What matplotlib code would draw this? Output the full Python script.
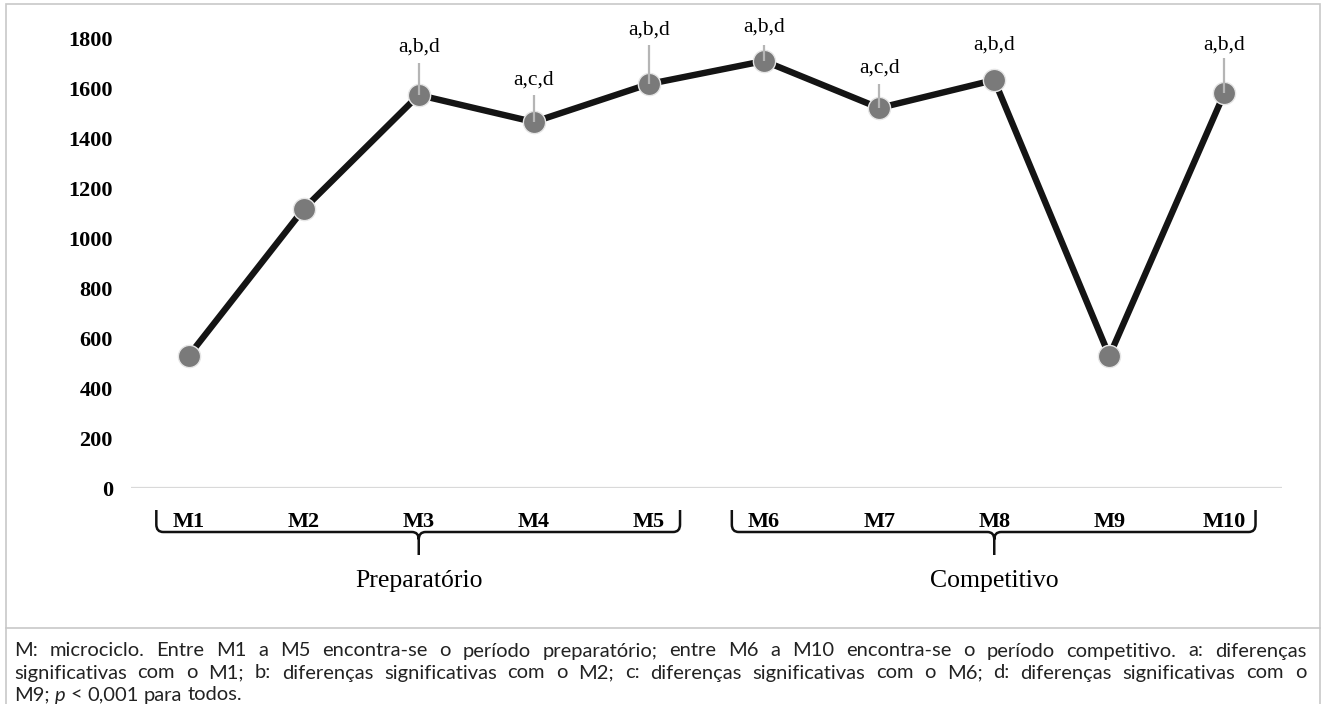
import numpy as np
import matplotlib
matplotlib.use("Agg")
from matplotlib import pyplot as plt
from matplotlib.path import Path
from matplotlib.patches import PathPatch, Rectangle
from matplotlib.lines import Line2D

# dados
microciclos = ["M1", "M2", "M3", "M4", "M5", "M6", "M7", "M8", "M9", "M10"]
valores = [528, 1116, 1572, 1464, 1616, 1708, 1520, 1632, 528, 1580]
rotulos = ["", "", "a,b,d", "a,c,d", "a,b,d", "a,b,d", "a,c,d", "a,b,d", "", "a,b,d"]
periodos = ["Preparatório", "Competitivo"]
periodo_idx = [(0, 4), (5, 9)]
yticks = [0, 200, 400, 600, 800, 1000, 1200, 1400, 1600, 1800]

legenda = [
    "M: microciclo. Entre M1 a M5 encontra-se o período preparatório; entre M6 a M10 encontra-se o período competitivo. a: diferenças",
    "significativas com o M1; b: diferenças significativas com o M2; c: diferenças significativas com o M6; d: diferenças significativas com o",
    "M9; p < 0,001 para todos.",
]

# posição (em y dos dados) do texto e do topo da linha guia de cada rótulo
rotulo_y = [None, None, 1764, 1632, 1832, 1844, 1680, 1772, None, 1772]
guia_topo = [None, None, 1700, 1572, 1772, 1772, 1616, None, None, 1720]

W, H = 1327, 704
fig = plt.figure(figsize=(W / 100, H / 100), dpi=100)
ax = fig.add_axes([131 / W, (H - 488) / H, (1282 - 131) / W, 450 / H])

serif = ["Liberation Serif", "DejaVu Serif"]
x = np.arange(len(microciclos))

ax.axhline(0, color="#d9d9d9", lw=1.6, zorder=1)
ax.plot(x, valores, color="#141414", lw=4.6, zorder=2, solid_capstyle="butt")
ax.plot(x, valores, "o", ms=16, color="#7a7a7a", mec="#e6e6e6", mew=1.0, zorder=3)

for i, txt in enumerate(rotulos):
    if not txt:
        continue
    ax.text(i, rotulo_y[i], txt, ha="center", va="center", fontsize=15.5,
            family=serif, clip_on=False, zorder=5)
    if guia_topo[i] is not None:
        ax.plot([i, i], [guia_topo[i], valores[i]], color="#b5b5b5", lw=1.6,
                zorder=4, clip_on=False, solid_capstyle="butt")

ax.set_xlim(-0.5, len(microciclos) - 0.5)
ax.set_ylim(0, 1800)
ax.set_yticks(yticks)
ax.set_yticklabels([str(v) for v in yticks], family=serif, fontweight="bold", fontsize=16)
ax.set_xticks(x)
ax.set_xticklabels(microciclos, family=serif, fontweight="bold", fontsize=16)
ax.tick_params(axis="y", length=0, pad=13)
ax.tick_params(axis="x", length=0, pad=17)
for s in ax.spines.values():
    s.set_visible(False)


# chaves abaixo dos rótulos do eixo x
def chave(x0, x1, xc, yb, yt, ytip):
    dx = 0.06
    r = 30
    verts = [
        (x0, yt), (x0, yb + r), (x0, yb), (x0 + dx, yb),
        (xc - dx, yb), (xc, yb), (xc, yb - r),
        (xc, ytip),
        (xc, yb - r), (xc, yb), (xc + dx, yb),
        (x1 - dx, yb), (x1, yb), (x1, yb + r), (x1, yt),
    ]
    codes = [
        Path.MOVETO, Path.LINETO, Path.CURVE3, Path.CURVE3,
        Path.LINETO, Path.CURVE3, Path.CURVE3,
        Path.LINETO,
        Path.MOVETO, Path.CURVE3, Path.CURVE3,
        Path.LINETO, Path.CURVE3, Path.CURVE3, Path.LINETO,
    ]
    p = PathPatch(Path(verts, codes), fill=False, color="#111111", lw=1.8,
                  clip_on=False, capstyle="butt")
    ax.add_patch(p)


for nome, (a, b) in zip(periodos, periodo_idx):
    xc = (a + b) / 2
    chave(a - 0.28, b + 0.27, xc, -176, -88, -268)
    ax.text(xc, -370, nome, ha="center", va="center", fontsize=18.5,
            family=serif, clip_on=False)

# moldura
cinza = "#c8c8c8"
fig.add_artist(Rectangle((6 / W, 1 - 628 / H), (1320 - 6) / W, (628 - 4) / H,
                         transform=fig.transFigure, fill=False, ec=cinza, lw=1.2))
fig.add_artist(Line2D([6 / W, 6 / W], [0, 1 - 628 / H], transform=fig.transFigure,
                      color=cinza, lw=1.2))
fig.add_artist(Line2D([1320 / W, 1320 / W], [0, 1 - 628 / H], transform=fig.transFigure,
                      color=cinza, lw=1.2))

# legenda justificada
fonte_leg = dict(family=["Lato", "DejaVu Sans"], fontsize=14.5, color="#222222")
renderer = fig.canvas.get_renderer()
x_ini, x_fim = 14, 1306
linhas_y = [651, 673, 695]
tmp = fig.text(0, 0, "a a", **fonte_leg)
tmp2 = fig.text(0, 0, "aa", **fonte_leg)
esp_nat = tmp.get_window_extent(renderer).width - tmp2.get_window_extent(renderer).width
tmp.remove()
tmp2.remove()

for n, linha in enumerate(legenda):
    palavras = linha.split(" ")
    objs = []
    for p in palavras:
        estilo = "italic" if p == "p" else "normal"
        t = fig.text(0, 1 - linhas_y[n] / H, p, ha="left", va="center",
                     fontstyle=estilo, **fonte_leg)
        objs.append(t)
    larg = [t.get_window_extent(renderer).width for t in objs]
    if n < len(legenda) - 1:
        gap = (x_fim - x_ini - sum(larg)) / (len(palavras) - 1)
        gap = max(gap, 0.5 * esp_nat)
    else:
        gap = esp_nat
    print(n, sum(larg) + gap * (len(palavras) - 1), gap, esp_nat)
    pos = x_ini
    for t, w in zip(objs, larg):
        t.set_x(pos / W)
        pos += w + gap

fig.savefig("out.png", dpi=100)
